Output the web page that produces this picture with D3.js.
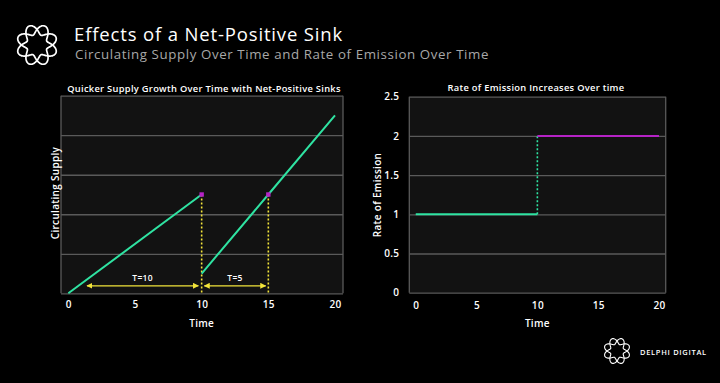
<!DOCTYPE html>
<html><head><meta charset="utf-8">
<script src="https://cdn.jsdelivr.net/npm/d3@7"></script>
<style>
html,body{margin:0;padding:0;background:#000;}
svg{display:block;}
text{font-family:"Open Sans",sans-serif;fill:#fff;}
</style></head>
<body>
<script>
// ---- data ----
const supplyTimeA = [0, 10];
const supplyValA = [0, 25];
const supplyTimeB = [10, 15, 20];
const supplyValB = [5, 25, 45];
const sinkMarkers = [[10, 25], [15, 25]];
const intervals = [{from: 1.4, to: 9.75, label: "T=10"}, {from: 10.2, to: 14.8, label: "T=5"}];
const leftYTicks = [0, 10, 20, 30, 40, 50];
const xTicks = [0, 5, 10, 15, 20];
const emissionLow = [[0, 1], [10, 1]];
const emissionStep = [[10, 1], [10, 2]];
const emissionHigh = [[10, 2], [20, 2]];
const rightYTicks = [0, 0.5, 1, 1.5, 2, 2.5];

const W = 720, H = 383;
const GREEN = "#2fe3a2", PURPLE = "#b623c6", YELLOW = "#f2e43a", GRID = "#5a5a5a", PLOTBG = "#121212";

const svg = d3.select("body").append("svg").attr("width", W).attr("height", H);
svg.append("rect").attr("width", W).attr("height", H).attr("fill", "#000");

// logo: two braided closed curves
function logo(g, cx, cy, R, a, sw) {
  [1, -1].forEach(s => {
    const pts = d3.range(0, 361, 2).map(deg => {
      const t = deg * Math.PI / 180;
      const r = R + s * a * Math.sin(4 * t);
      return [cx + r * Math.cos(t), cy + r * Math.sin(t)];
    });
    g.append("path").attr("d", d3.line().curve(d3.curveCardinalClosed)(pts))
      .attr("fill", "none").attr("stroke", "#fff").attr("stroke-width", sw);
  });
}
logo(svg.append("g"), 37, 45, 15.5, 5, 1.7);
logo(svg.append("g"), 617, 351, 10, 3.2, 1.1);

svg.append("text").attr("x", 74).attr("y", 41).attr("font-size", 18.5).attr("font-weight", 500)
  .attr("letter-spacing", 0.85).text("Effects of a Net-Positive Sink");
svg.append("text").attr("x", 75).attr("y", 59).attr("font-size", 13.3).style("fill", "#a8a8a8")
  .attr("letter-spacing", 0.6).text("Circulating Supply Over Time and Rate of Emission Over Time");
svg.append("text").attr("x", 640).attr("y", 355).attr("font-size", 7.5).attr("font-weight", 600)
  .attr("letter-spacing", 0.7).text("DELPHI DIGITAL");

// ---- left chart ----
const L = {left: 61, right: 343, top: 95.7, bottom: 293.3};
const xL = d3.scaleLinear().domain([-0.55, 20.6]).range([L.left, L.right]);
const yL = d3.scaleLinear().domain([0, 50]).range([L.bottom, L.top]);
const gl = svg.append("g");
gl.append("rect").attr("x", L.left).attr("y", L.top).attr("width", L.right - L.left).attr("height", L.bottom - L.top).attr("fill", PLOTBG);
gl.append("g").attr("transform", `translate(${L.left},0)`)
  .call(d3.axisLeft(yL).tickValues(leftYTicks).tickSize(-(L.right - L.left)).tickFormat(""))
  .call(g => g.select(".domain").remove())
  .call(g => g.selectAll("line").attr("stroke", GRID).attr("stroke-width", 1.3));
gl.append("line").attr("x1", L.left).attr("x2", L.left).attr("y1", L.top).attr("y2", L.bottom).attr("stroke", GRID).attr("stroke-width", 1.3);
gl.append("line").attr("x1", L.right).attr("x2", L.right).attr("y1", L.top).attr("y2", L.bottom).attr("stroke", GRID).attr("stroke-width", 1.3);
gl.append("g").attr("transform", `translate(0,${L.bottom})`)
  .call(d3.axisBottom(xL).tickValues(xTicks).tickSize(0).tickPadding(8))
  .call(g => g.select(".domain").remove())
  .call(g => g.selectAll("text").attr("font-size", 10).attr("font-weight", 600).attr("letter-spacing", 0.3).style("fill", "#fff"));

const lineL = d3.line().x(d => xL(d[0])).y(d => yL(d[1]));
sinkMarkers.forEach(m => {
  gl.append("line").attr("x1", xL(m[0])).attr("x2", xL(m[0])).attr("y1", yL(m[1])).attr("y2", yL(0))
    .attr("stroke", YELLOW).attr("stroke-width", 1.6).attr("stroke-dasharray", "2,2");
});
gl.append("path").datum(supplyTimeA.map((t, i) => [t, supplyValA[i]])).attr("d", lineL)
  .attr("fill", "none").attr("stroke", GREEN).attr("stroke-width", 2);
gl.append("path").datum(supplyTimeB.map((t, i) => [t, supplyValB[i]])).attr("d", lineL)
  .attr("fill", "none").attr("stroke", GREEN).attr("stroke-width", 2);
gl.selectAll(".mk").data(sinkMarkers).join("rect")
  .attr("x", d => xL(d[0]) - 2.2).attr("y", d => yL(d[1]) - 2.2).attr("width", 4.4).attr("height", 4.4).attr("fill", PURPLE);

const defs = svg.append("defs");
defs.append("marker").attr("id", "ah").attr("viewBox", "0 0 10 10").attr("refX", 9).attr("refY", 5)
  .attr("markerWidth", 6).attr("markerHeight", 6).attr("markerUnits", "userSpaceOnUse").attr("orient", "auto-start-reverse")
  .append("path").attr("d", "M0,0L10,5L0,10Z").attr("fill", YELLOW);
intervals.forEach(iv => {
  gl.append("line").attr("x1", xL(iv.from)).attr("x2", xL(iv.to)).attr("y1", yL(1.9)).attr("y2", yL(1.9))
    .attr("stroke", YELLOW).attr("stroke-width", 1.2).attr("marker-start", "url(#ah)").attr("marker-end", "url(#ah)");
  gl.append("text").attr("x", xL((iv.from + iv.to) / 2)).attr("y", yL(3.85)).attr("dy", "0.35em")
    .attr("text-anchor", "middle").attr("font-size", 8.5).attr("font-weight", 600).attr("letter-spacing", 0.3).text(iv.label);
});
gl.append("text").attr("x", (L.left + L.right) / 2 + 2).attr("y", 88.5).attr("dy", "0.35em").attr("text-anchor", "middle")
  .attr("font-size", 9.3).attr("font-weight", 600).attr("letter-spacing", 0.3).text("Quicker Supply Growth Over Time with Net-Positive Sinks");
gl.append("text").attr("transform", `translate(55,193) rotate(-90)`).attr("dy", "0.35em").attr("text-anchor", "middle")
  .attr("font-size", 10).attr("font-weight", 600).attr("letter-spacing", 0.3).text("Circulating Supply");
gl.append("text").attr("x", xL(10)).attr("y", 323).attr("dy", "0.35em").attr("text-anchor", "middle")
  .attr("font-size", 10).attr("font-weight", 600).attr("letter-spacing", 0.3).text("Time");

// ---- right chart ----
const R = {left: 409.3, right: 665.7, top: 96.7, bottom: 292.7};
const xR = d3.scaleLinear().domain([-0.53, 20.55]).range([R.left, R.right]);
const yR = d3.scaleLinear().domain([0, 2.5]).range([R.bottom, R.top]);
const gr = svg.append("g");
gr.append("rect").attr("x", R.left).attr("y", R.top).attr("width", R.right - R.left).attr("height", R.bottom - R.top).attr("fill", PLOTBG);
gr.append("g").attr("transform", `translate(${R.left},0)`)
  .call(d3.axisLeft(yR).tickValues(rightYTicks).tickSize(-(R.right - R.left)).tickPadding(10).tickFormat(d3.format("")))
  .call(g => g.select(".domain").remove())
  .call(g => g.selectAll("line").attr("stroke", GRID).attr("stroke-width", 1.3))
  .call(g => g.selectAll("text").attr("font-size", 10).attr("font-weight", 600).attr("letter-spacing", 0.3).style("fill", "#fff"));
gr.append("line").attr("x1", R.left).attr("x2", R.left).attr("y1", R.top).attr("y2", R.bottom).attr("stroke", GRID).attr("stroke-width", 1.3);
gr.append("line").attr("x1", R.right).attr("x2", R.right).attr("y1", R.top).attr("y2", R.bottom).attr("stroke", GRID).attr("stroke-width", 1.3);
gr.append("g").attr("transform", `translate(0,${R.bottom})`)
  .call(d3.axisBottom(xR).tickValues(xTicks).tickSize(0).tickPadding(9))
  .call(g => g.select(".domain").remove())
  .call(g => g.selectAll("text").attr("font-size", 10).attr("font-weight", 600).attr("letter-spacing", 0.3).style("fill", "#fff"));
const lineR = d3.line().x(d => xR(d[0])).y(d => yR(d[1]));
gr.append("path").datum(emissionLow).attr("d", lineR).attr("fill", "none").attr("stroke", GREEN).attr("stroke-width", 2);
gr.append("path").datum(emissionStep).attr("d", lineR).attr("fill", "none").attr("stroke", GREEN).attr("stroke-width", 1.6).attr("stroke-dasharray", "2,2");
gr.append("path").datum(emissionHigh).attr("d", lineR).attr("fill", "none").attr("stroke", PURPLE).attr("stroke-width", 2);
gr.append("text").attr("x", 536).attr("y", 87.5).attr("dy", "0.35em").attr("text-anchor", "middle")
  .attr("font-size", 9.3).attr("font-weight", 600).attr("letter-spacing", 0.3).text("Rate of Emission Increases Over time");
gr.append("text").attr("transform", `translate(377,195) rotate(-90)`).attr("dy", "0.35em").attr("text-anchor", "middle")
  .attr("font-size", 10).attr("font-weight", 600).attr("letter-spacing", 0.3).text("Rate of Emission");
gr.append("text").attr("x", xR(10)).attr("y", 323).attr("dy", "0.35em").attr("text-anchor", "middle")
  .attr("font-size", 10).attr("font-weight", 600).attr("letter-spacing", 0.3).text("Time");
</script>
</body></html>
